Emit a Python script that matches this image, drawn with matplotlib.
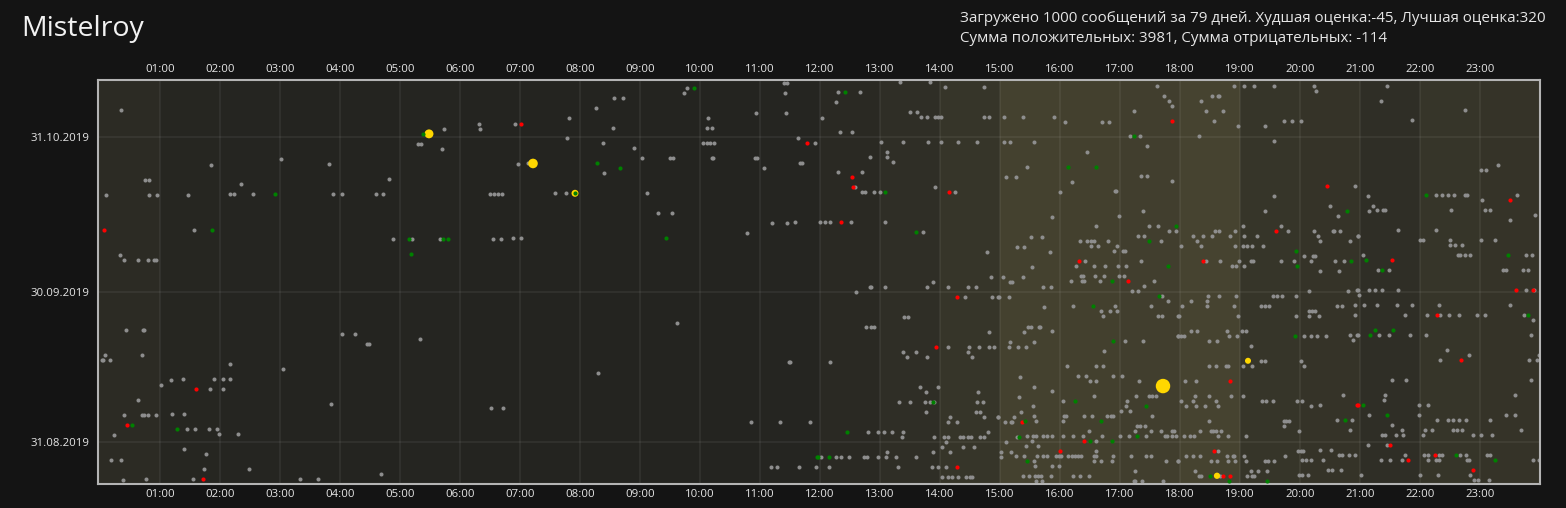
import datetime as dt
import numpy as np
import matplotlib
matplotlib.use("Agg")
import matplotlib.pyplot as plt

# header texts
title = "Mistelroy"
info_line1 = "Загружено 1000 сообщений за 79 дней. Худшая оценка:-45, Лучшая оценка:320"
info_line2 = "Сумма положительных: 3981, Сумма отрицательных: -114"

# day 0 of the data
start_date = dt.date(2019, 8, 23)
date_ticks = [dt.date(2019, 8, 31), dt.date(2019, 9, 30), dt.date(2019, 10, 31)]
hour_labels = ["%02d:00" % h for h in range(1, 24)]

# how busy every hour of the day looks (0..1), drives the column shading
hour_activity = [0.25, 0.08, 0.05, 0.03, 0.03, 0.05, 0.02, 0.02, 0.02, 0.02, 0.03, 0.05,
                 0.2, 0.35, 0.55, 0.95, 0.9, 0.85, 1.0, 0.55, 0.5, 0.35, 0.55, 0.5]

# messages as (minute of day, day number since start_date)
gray_points = [
    (21, 74), (111, 63), (45, 60), (49, 60), (141, 59), (6, 57), (49, 57), (57, 57), (88, 57), (130, 57),
    (134, 57), (153, 57), (94, 50), (20, 45), (24, 44), (38, 44), (48, 44), (54, 44), (56, 44), (26, 30),
    (43, 30), (44, 30), (5, 25), (2, 24), (3, 24), (10, 24), (42, 25), (130, 23), (61, 19), (71, 20),
    (83, 20), (114, 20), (123, 20), (130, 20), (110, 18), (123, 18), (38, 16), (24, 13), (42, 13), (44, 13),
    (48, 13), (56, 13), (72, 13), (84, 13), (87, 10), (95, 10), (109, 10), (117, 10), (119, 9), (138, 9),
    (14, 9), (84, 6), (106, 5), (11, 4), (21, 4), (104, 2), (149, 2), (23, 0), (46, 0), (93, 0),
    (344, 70), (318, 67), (321, 67), (342, 66), (181, 64), (229, 63), (289, 60), (233, 57), (242, 57), (276, 57),
    (283, 57), (293, 48), (312, 48), (340, 48), (242, 29), (255, 29), (267, 27), (269, 27), (320, 28), (183, 22),
    (231, 15), (200, 0), (218, 0), (281, 1),
    (514, 76), (523, 76), (496, 74), (469, 72), (379, 71), (380, 70), (415, 71), (513, 70), (467, 68), (503, 67),
    (534, 66), (418, 63), (428, 63), (504, 61), (390, 57), (394, 57), (398, 57), (402, 57), (455, 57), (466, 57),
    (393, 48), (401, 48), (413, 48), (421, 48), (498, 21), (391, 14), (403, 14),
    (684, 79), (687, 79), (587, 78), (584, 77), (685, 77), (656, 73), (686, 73), (608, 72), (607, 70), (612, 70),
    (698, 68), (715, 67), (603, 67), (607, 67), (610, 67), (614, 67), (542, 64), (570, 64), (573, 64), (612, 64),
    (613, 64), (655, 64), (657, 64), (664, 62), (700, 63), (702, 63), (547, 57), (558, 53), (572, 53), (672, 51),
    (687, 51), (695, 51), (647, 49), (577, 31), (689, 23), (690, 23), (651, 11), (680, 11), (710, 11), (671, 2),
    (677, 2), (699, 2), (716, 2),
    (800, 79), (830, 79), (845, 78), (884, 78), (738, 77), (760, 77), (736, 75), (810, 73), (817, 73), (722, 72),
    (821, 72), (827, 72), (835, 72), (838, 72), (841, 72), (884, 72), (889, 72), (740, 69), (752, 69), (781, 67),
    (803, 67), (828, 67), (841, 67), (858, 67), (877, 67), (787, 65), (770, 64), (787, 64), (793, 63), (738, 61),
    (762, 61), (755, 58), (835, 58), (762, 57), (765, 57), (774, 57), (780, 57), (855, 57), (720, 51), (725, 51),
    (730, 51), (751, 51), (785, 51), (823, 49), (887, 45), (891, 40), (833, 39), (770, 38), (771, 38), (785, 38),
    (827, 38), (848, 38), (868, 38), (876, 38), (756, 37), (865, 36), (892, 36), (898, 36), (804, 32), (808, 32),
    (766, 30), (771, 30), (774, 30), (889, 29), (848, 26), (869, 26), (879, 26), (889, 26), (894, 26), (803, 25),
    (816, 25), (868, 25), (807, 24), (827, 24), (872, 24), (730, 23), (820, 18), (838, 18), (826, 17), (878, 17),
    (799, 15), (810, 15), (825, 15), (830, 15), (834, 15), (877, 15), (883, 15), (826, 13), (876, 13), (880, 13),
    (884, 12), (898, 12), (850, 12), (848, 11), (857, 11), (768, 9), (778, 9), (784, 9), (792, 9), (803, 9),
    (888, 9), (802, 8), (834, 8), (844, 8), (848, 8), (860, 8), (863, 8), (868, 8), (871, 8), (880, 8),
    (884, 8), (846, 7), (842, 6), (863, 6), (874, 6), (787, 5), (833, 5), (850, 5), (721, 4), (736, 4),
    (741, 4), (749, 4), (764, 4), (767, 4), (778, 4), (786, 4), (796, 4), (816, 4), (729, 2), (798, 2),
    (832, 2), (838, 2), (846, 2), (842, 0), (848, 0), (852, 0), (858, 0), (866, 0), (870, 0), (872, 0),
    (1057, 78), (1064, 76), (1069, 75), (1072, 74), (1034, 73), (904, 72), (923, 72), (954, 72), (965, 71), (1002, 71),
    (1009, 71), (1030, 68), (1040, 68), (904, 67), (910, 67), (934, 67), (1047, 66), (987, 65), (927, 62), (906, 60),
    (916, 60), (1041, 60), (1047, 60), (972, 59), (1072, 59), (960, 57), (1015, 57), (1016, 57), (1043, 53), (952, 52),
    (1019, 52), (996, 50), (1049, 50), (1058, 50), (1069, 49), (1076, 49), (931, 48), (942, 48), (1038, 48), (1044, 48),
    (980, 47), (987, 47), (991, 47), (994, 47), (1008, 47), (1061, 47), (917, 46), (924, 46), (991, 46), (998, 46),
    (1017, 46), (950, 45), (1014, 45), (1023, 45), (1025, 45), (985, 43), (1041, 43), (932, 42), (976, 42), (994, 42),
    (1005, 42), (1018, 42), (1026, 42), (903, 40), (923, 40), (981, 40), (983, 40), (995, 40), (1004, 40), (1019, 40),
    (1024, 40), (910, 39), (912, 39), (971, 39), (982, 39), (984, 39), (1000, 39), (1054, 39), (943, 38), (951, 38),
    (1044, 38), (1032, 37), (1038, 37), (899, 36), (909, 36), (1062, 36), (1068, 35), (944, 34), (973, 34), (1015, 34),
    (1051, 34), (1001, 33), (1010, 33), (1017, 33), (1003, 32), (1058, 32), (1062, 32), (1078, 32), (928, 30), (931, 30),
    (939, 30), (940, 30), (924, 29), (952, 29), (1078, 28), (910, 27), (934, 27), (1025, 27), (1043, 27), (909, 26),
    (918, 26), (926, 26), (1004, 25), (967, 22), (996, 22), (1003, 22), (920, 20), (978, 20), (986, 20), (1013, 20),
    (1022, 20), (990, 19), (996, 19), (1039, 19), (934, 18), (952, 17), (919, 16), (994, 16), (1036, 16), (1049, 16),
    (1052, 16), (1056, 16), (963, 15), (1027, 15), (933, 14), (1026, 14), (921, 13), (1021, 13), (1030, 13), (898, 12),
    (914, 12), (934, 12), (964, 12), (966, 12), (984, 12), (992, 12), (1007, 12), (1011, 12), (1013, 12), (1052, 12),
    (905, 11), (911, 11), (912, 11), (936, 11), (963, 11), (1037, 10), (1040, 10), (1045, 10), (989, 9), (1035, 9),
    (1051, 9), (1061, 9), (1072, 9), (1074, 9), (917, 8), (927, 8), (933, 8), (936, 8), (943, 8), (947, 8),
    (952, 8), (963, 8), (973, 8), (983, 8), (1002, 8), (1020, 8), (1029, 8), (1046, 8), (1065, 8), (1067, 8),
    (1072, 8), (1076, 8), (906, 7), (932, 7), (996, 7), (926, 6), (938, 6), (901, 5), (911, 5), (996, 5),
    (901, 4), (916, 4), (924, 4), (937, 4), (943, 4), (947, 4), (956, 4), (959, 4), (961, 4), (968, 4),
    (972, 4), (975, 4), (978, 4), (981, 4), (994, 4), (996, 4), (1013, 4), (1031, 4), (1046, 4), (1051, 4),
    (934, 3), (994, 3), (1001, 3), (1012, 3), (1066, 3), (1078, 3), (935, 2), (952, 2), (959, 2), (1035, 1),
    (923, 0), (929, 0), (935, 0), (938, 0), (941, 0), (951, 0), (973, 0), (980, 0), (989, 0), (936, -1),
    (942, -1), (1034, -1), (1035, -1), (1042, -1), (1063, -1),
    (1134, 78), (1144, 78), (1154, 78), (1174, 78), (1214, 78), (1216, 77), (1112, 76), (1118, 76), (1119, 76), (1101, 75),
    (1106, 73), (1123, 73), (1114, 71), (1184, 71), (1192, 71), (1201, 71), (1138, 70), (1165, 70), (1099, 68), (1174, 67),
    (1255, 58), (1174, 56), (1230, 54), (1165, 53), (1238, 52), (1143, 50), (1181, 50), (1115, 49), (1119, 49), (1135, 49),
    (1188, 49), (1214, 49), (1233, 49), (1234, 49), (1240, 49), (1093, 48), (1103, 48), (1112, 48), (1130, 48), (1144, 48),
    (1157, 48), (1218, 48), (1258, 48), (1097, 47), (1220, 47), (1250, 47), (1081, 46), (1101, 46), (1135, 46), (1143, 46),
    (1147, 46), (1152, 46), (1163, 46), (1204, 44), (1213, 44), (1215, 44), (1106, 43), (1120, 43), (1139, 43), (1151, 43),
    (1153, 43), (1181, 43), (1194, 43), (1211, 43), (1235, 43), (1244, 43), (1132, 42), (1136, 42), (1144, 42), (1220, 41),
    (1239, 41), (1209, 37), (1248, 37), (1257, 37), (1108, 36), (1119, 36), (1136, 36), (1173, 36), (1177, 36), (1182, 36),
    (1196, 36), (1091, 35), (1107, 35), (1082, 34), (1107, 34), (1134, 34), (1161, 34), (1165, 34), (1169, 34), (1237, 34),
    (1242, 34), (1255, 34), (1209, 33), (1212, 33), (1215, 33), (1079, 32), (1138, 32), (1196, 32), (1209, 32), (1219, 32),
    (1255, 32), (1091, 29), (1097, 29), (1127, 29), (1142, 29), (1146, 29), (1078, 28), (1081, 28), (1084, 28), (1129, 28),
    (1137, 28), (1204, 28), (1211, 28), (1217, 28), (1226, 28), (1250, 28), (1257, 28), (1109, 27), (1117, 27), (1253, 27),
    (1151, 26), (1161, 23), (1165, 23), (1201, 23), (1109, 22), (1116, 22), (1126, 22), (1128, 22), (1143, 22), (1152, 22),
    (1204, 22), (1085, 19), (1096, 19), (1095, 16), (1109, 16), (1131, 16), (1143, 16), (1243, 16), (1081, 15), (1093, 15),
    (1116, 15), (1162, 15), (1166, 15), (1173, 15), (1197, 15), (1202, 15), (1086, 14), (1096, 14), (1105, 14), (1118, 14),
    (1211, 14), (1220, 14), (1109, 11), (1184, 11), (1186, 11), (1189, 11), (1237, 11), (1252, 11), (1184, 10), (1100, 9),
    (1111, 9), (1113, 9), (1116, 9), (1121, 9), (1199, 9), (1250, 9), (1084, 8), (1090, 8), (1094, 8), (1118, 8),
    (1128, 8), (1146, 8), (1118, 5), (1198, 5), (1201, 5), (1203, 5), (1220, 5), (1231, 5), (1086, 4), (1093, 4),
    (1100, 4), (1127, 4), (1133, 4), (1134, 4), (1144, 4), (1185, 4), (1239, 4), (1242, 4), (1249, 4), (1255, 4),
    (1078, 3), (1111, 3), (1117, 3), (1128, 3), (1135, 3), (1146, 3), (1165, 3), (1168, 3), (1174, 3), (1202, 3),
    (1206, 3), (1211, 3), (1223, 3), (1095, 1), (1151, 1), (1158, 1), (1167, 1), (1228, 1), (1232, 1), (1241, 1),
    (1099, 0), (1101, 0), (1120, 0), (1147, 0), (1152, 0), (1154, 0), (1199, 0), (1202, 0), (1208, 0),
    (1287, 78), (1281, 75), (1365, 73), (1312, 71), (1398, 62), (1381, 61), (1386, 61), (1268, 56), (1336, 56), (1342, 56),
    (1348, 56), (1354, 56), (1365, 56), (1367, 56), (1417, 56), (1382, 55), (1273, 54), (1269, 53), (1277, 53), (1283, 53),
    (1285, 53), (1351, 53), (1385, 53), (1390, 53), (1435, 52), (1410, 51), (1298, 49), (1336, 49), (1258, 48), (1320, 47),
    (1323, 47), (1350, 47), (1381, 47), (1395, 47), (1350, 46), (1355, 46), (1362, 46), (1263, 44), (1358, 44), (1360, 44),
    (1365, 44), (1370, 44), (1426, 44), (1432, 44), (1278, 41), (1289, 41), (1403, 41), (1406, 41), (1423, 41), (1428, 41),
    (1258, 37), (1269, 37), (1275, 37), (1282, 37), (1298, 37), (1426, 37), (1434, 37), (1259, 36), (1264, 34), (1277, 34),
    (1297, 34), (1312, 34), (1339, 34), (1410, 34), (1305, 32), (1327, 32), (1340, 32), (1349, 32), (1359, 32), (1377, 32),
    (1385, 32), (1424, 32), (1433, 31), (1258, 28), (1279, 28), (1289, 28), (1310, 28), (1326, 28), (1431, 28), (1347, 25),
    (1369, 24), (1439, 24), (1340, 23), (1429, 23), (1437, 23), (1292, 19), (1306, 19), (1431, 19), (1285, 16), (1415, 16),
    (1284, 15), (1319, 14), (1328, 14), (1269, 12), (1319, 12), (1406, 12), (1415, 12), (1337, 11), (1348, 11), (1353, 11),
    (1359, 11), (1366, 11), (1390, 11), (1292, 10), (1302, 9), (1325, 9), (1332, 9), (1353, 9), (1357, 9), (1362, 9),
    (1421, 9), (1282, 8), (1285, 8), (1296, 8), (1303, 8), (1323, 8), (1373, 8), (1381, 8), (1392, 8), (1268, 6),
    (1287, 6), (1305, 4), (1324, 4), (1328, 4), (1339, 4), (1342, 4), (1360, 4), (1366, 4), (1387, 4), (1390, 4),
    (1281, 3), (1290, 3), (1302, 3), (1328, 3), (1336, 3), (1339, 3), (1367, 3), (1369, 3), (1433, 3), (1439, 3),
    (1261, 0), (1320, 0), (1338, 0), (1370, 0), (1374, -1), (1378, -1), (1389, -1),
]

red_points = [
    (4, 50), (96, 18), (27, 11), (103, 0), (421, 71), (707, 67),
    (752, 60), (753, 58), (849, 57), (741, 51), (857, 36), (836, 26), (857, 2),
    (1072, 71), (979, 43), (1028, 39), (922, 11), (984, 7), (960, 5),
    (1227, 58), (1176, 49), (1103, 43), (1130, 19), (1257, 14), (1114, 5), (1123, 0), (1130, 0),
    (1410, 55), (1292, 43), (1416, 37), (1433, 37), (1337, 32), (1361, 23), (1258, 14), (1290, 6), (1335, 4),
    (1308, 3), (1373, 1),
]

green_points = [
    (175, 57), (112, 50), (32, 11), (77, 10), (323, 69), (309, 48), (343, 48), (348, 48), (311, 45),
    (497, 63), (520, 62), (475, 57), (594, 78), (566, 48), (717, 4),
    (745, 77), (785, 57), (816, 49), (833, 15), (747, 9), (718, 4), (729, 4),
    (1034, 68), (968, 62), (996, 62), (1076, 50), (1049, 47), (1068, 42), (1012, 39), (1059, 36), (993, 34),
    (1013, 27), (975, 15), (1046, 14), (925, 11), (1001, 11), (919, 8), (1037, 8), (990, 7), (1012, 7), (927, 3),
    (1247, 53), (1196, 45), (1251, 43), (1197, 42), (1195, 28), (1245, 11), (1110, 0), (1129, -1), (1167, -1),
    (1326, 56), (1408, 44), (1266, 43), (1282, 41), (1428, 32), (1275, 29), (1293, 29), (1270, 28), (1263, 14),
    (1287, 12), (1356, 4), (1395, 3),
]

# best rated messages: (minute, day, score)
yellow_points = [(329, 69, 110), (433, 63, 130), (475, 57, 60), (1063, 18, 320), (1148, 23, 40), (1117, 0, 45)]

# ---- styling ----
BG = "#141414"
DARK = np.array([0x23, 0x23, 0x20]) / 255
BRIGHT = np.array([0x46, 0x43, 0x30]) / 255
TEXT = "#e6e6e6"
FONT = ["Open Sans", "DejaVu Sans"]
plt.rcParams["font.family"] = FONT

W, H = 1566, 508
fig = plt.figure(figsize=(W / 100, H / 100), dpi=100, facecolor=BG)
ax = fig.add_axes([98 / W, (H - 483.5) / H, 1442 / W, 403 / H])


def to_xy(points):
    # x in hours, y in days (time of day moves the point up within its day)
    x = np.array([p[0] for p in points]) / 60.0
    y = np.array([p[1] + p[0] / 1440.0 for p in points])
    return x, y


# hour columns shaded by activity
for h, v in enumerate(hour_activity):
    ax.axvspan(h, h + 1, color=DARK + (BRIGHT - DARK) * v, lw=0, zorder=0)
ax.set_facecolor(DARK + (BRIGHT - DARK) * hour_activity[0])

# date ticks are midnight local, the data is shifted by 9 hours
tz_shift = 9 / 24
ytick_pos = [(d - start_date).days - tz_shift for d in date_ticks]

for h in range(1, 24):
    ax.axvline(h, color="white", alpha=0.07, lw=1.1, zorder=1)
for yp in ytick_pos:
    ax.axhline(yp, color="white", alpha=0.07, lw=1.1, zorder=1)

gx, gy = to_xy(gray_points)
ax.scatter(gx, gy, s=8.5, color="#8e8e8e", lw=0, zorder=2)
rx, ry = to_xy(red_points)
ax.scatter(rx, ry, s=9, color="#ff0000", lw=0, zorder=3)
yx, yy = to_xy([(p[0], p[1]) for p in yellow_points])
ys = np.array([p[2] for p in yellow_points]) * 0.32 + 6
ax.scatter(yx, yy, s=ys, color="#ffd700", lw=0, zorder=4)
grx, gry = to_xy(green_points)
ax.scatter(grx, gry, s=9, color="#008000", lw=0, zorder=5)

ax.set_xlim(-2 / 60, 24)
ax.set_ylim(-0.77, 79.91)

ax.set_xticks(range(1, 24))
ax.set_xticklabels(hour_labels)
ax.set_yticks(ytick_pos)
ax.set_yticklabels([d.strftime("%d.%m.%Y") for d in date_ticks])
ax.tick_params(axis="x", which="both", top=True, labeltop=True, bottom=True, labelbottom=True,
               length=0, pad=4, labelsize=8.2, labelcolor=TEXT)
ax.tick_params(axis="y", length=0, pad=6, labelsize=8.2, labelcolor=TEXT)

for sp in ax.spines.values():
    sp.set_color("#b4b4b4")
    sp.set_linewidth(1.5)

fig.text(21 / W, 1 - 29 / H, title, fontsize=20.5, color="#f2f2f2", va="center", ha="left")
fig.text(960 / W, 1 - 18 / H, info_line1, fontsize=10.9, color=TEXT, va="center", ha="left")
fig.text(960 / W, 1 - 39 / H, info_line2, fontsize=10.9, color=TEXT, va="center", ha="left")

fig.savefig("out.png", dpi=100, facecolor=BG)
